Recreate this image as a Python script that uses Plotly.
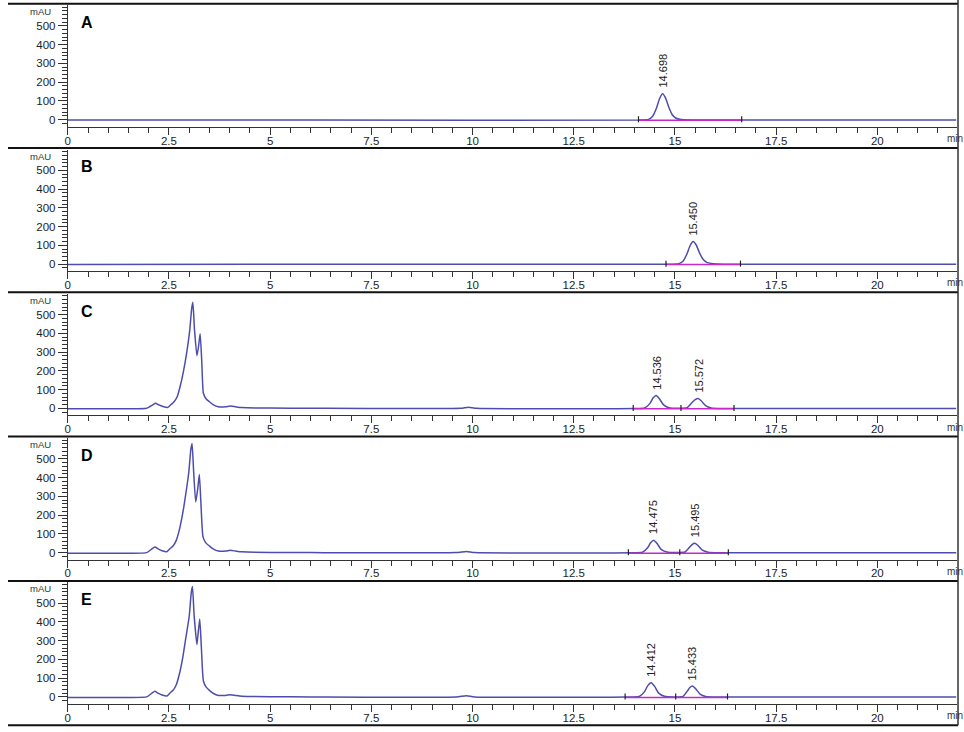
import plotly.graph_objects as go

W, H = 964, 732

panel_names = ["A", "B", "C", "D", "E"]

# retention time (min) and absorbance (mAU)
a_time = [0, 6, 14.1, 14.35, 14.45, 14.55, 14.62, 14.698, 14.77, 14.85, 14.93, 15.02, 15.15, 15.4, 21.95]
a_mau = [-2, -1, -2, 2, 18, 65, 112, 138, 115, 66, 28, 9, 1, -1, -1]

b_time = [0, 8, 14.8, 15.1, 15.2, 15.3, 15.38, 15.45, 15.53, 15.61, 15.7, 15.8, 15.95, 16.2, 21.95]
b_mau = [-2, -1, -1, 2, 15, 55, 100, 120, 100, 58, 24, 7, 1, -1, -1]

c_time = [0, 1.5, 1.95, 2.1, 2.17, 2.25, 2.35, 2.47, 2.55, 2.62, 2.7, 2.78, 2.86, 2.94, 3.01,
          3.06, 3.09, 3.13, 3.19, 3.23, 3.27, 3.31, 3.35, 3.42, 3.5, 3.6, 3.72, 3.9, 4.02, 4.15,
          4.3, 5.0, 6.0, 9.7, 9.9, 10.1, 14.0, 14.25, 14.38, 14.46, 14.536, 14.62, 14.72, 14.85,
          15.1, 15.3, 15.42, 15.5, 15.572, 15.65, 15.76, 15.9, 16.2, 21.95]
c_mau = [-3, -3, 0, 18, 27, 18, 10, 5, 20, 33, 60, 120, 200, 300, 410,
         530, 565, 420, 280, 330, 398, 250, 80, 50, 35, 18, 8, 8, 12, 8,
         4, 1, 0, 0, 6, 0, -1, 2, 25, 55, 68, 50, 18, 3,
         0, 3, 30, 46, 52, 40, 14, 2, -1, -1]

d_time = [0, 1.5, 1.95, 2.08, 2.15, 2.23, 2.33, 2.45, 2.53, 2.6, 2.68, 2.76, 2.84, 2.92, 2.99,
          3.04, 3.07, 3.11, 3.16, 3.21, 3.25, 3.29, 3.34, 3.41, 3.5, 3.6, 3.72, 3.9, 4.02, 4.15,
          4.3, 5.0, 6.0, 9.6, 9.85, 10.05, 13.9, 14.2, 14.32, 14.4, 14.475, 14.56, 14.66, 14.8,
          15.05, 15.25, 15.36, 15.43, 15.495, 15.57, 15.68, 15.82, 16.1, 21.95]
d_mau = [-3, -3, 0, 20, 30, 20, 10, 5, 22, 35, 65, 125, 210, 320, 430,
         550, 582, 430, 270, 340, 416, 260, 85, 52, 35, 18, 8, 8, 12, 8,
         4, 1, 0, 0, 6, 0, -1, 2, 24, 52, 66, 48, 17, 3,
         0, 3, 28, 44, 50, 38, 13, 2, -1, -1]

e_time = [0, 1.5, 1.95, 2.08, 2.15, 2.23, 2.33, 2.45, 2.53, 2.6, 2.68, 2.76, 2.84, 2.92, 3.0,
          3.05, 3.08, 3.12, 3.19, 3.22, 3.26, 3.3, 3.35, 3.42, 3.5, 3.6, 3.72, 3.9, 4.02, 4.15,
          4.3, 5.0, 6.0, 9.6, 9.85, 10.05, 13.8, 14.12, 14.25, 14.33, 14.412, 14.5, 14.6, 14.74,
          15.0, 15.2, 15.31, 15.37, 15.433, 15.51, 15.62, 15.76, 16.05, 21.95]
e_mau = [-3, -3, 0, 20, 30, 20, 10, 5, 22, 35, 65, 125, 210, 320, 430,
         555, 589, 440, 279, 340, 415, 265, 85, 52, 35, 18, 8, 8, 12, 8,
         4, 1, 0, 0, 6, 0, -1, 2, 28, 60, 76, 56, 20, 3,
         0, 3, 32, 50, 58, 44, 15, 2, -1, -1]

# labelled peaks (retention time) and integration events
a_peaks = [14.698]
b_peaks = [15.45]
c_peaks = [14.536, 15.572]
d_peaks = [14.475, 15.495]
e_peaks = [14.412, 15.433]

a_events = [14.1, 16.65]
b_events = [14.78, 16.62]
c_events = [13.97, 15.15, 16.46]
d_events = [13.85, 15.12, 16.32]
e_events = [13.77, 15.02, 16.3]

times = [a_time, b_time, c_time, d_time, e_time]
values = [a_mau, b_mau, c_mau, d_mau, e_mau]
peaks = [a_peaks, b_peaks, c_peaks, d_peaks, e_peaks]
events = [a_events, b_events, c_events, d_events, e_events]

y_ticks = [0, 100, 200, 300, 400, 500]

FONT = "Liberation Sans, Arial, sans-serif"
SIGNAL = "#4d4dad"
BASE = "#c828c8"

fig = go.Figure()
layout = dict()
annotations = []
shapes = []

x_left, x_right = 65, 957
px_per_min = 40.6
px_per_mau = 0.1875


def py(v):
    return 1 - v / H


for i, name in enumerate(panel_names):
    sep = 3.7 + 144.3 * i
    top = sep + 1.5
    axis_y = sep + 123
    zero_y = sep + 116
    ax = "" if i == 0 else str(i + 1)

    layout["xaxis" + ax] = dict(
        domain=[x_left / W, x_right / W],
        range=[0, (x_right - x_left) / px_per_min],
        anchor="y" + ax,
        dtick=2.5, tick0=0,
        ticks="outside", ticklen=7, tickcolor="#333", tickwidth=1,
        minor=dict(dtick=0.5, ticks="outside", ticklen=5, tickcolor="#333"),
        showline=True, linecolor="#333", linewidth=1,
        showgrid=False, zeroline=False,
        tickfont=dict(family=FONT, size=11.5, color="#222"),
        ticklabelstandoff=-4,
    )
    layout["yaxis" + ax] = dict(
        domain=[py(axis_y), py(top)],
        range=[-(axis_y - zero_y) / px_per_mau, (zero_y - top) / px_per_mau],
        anchor="x" + ax,
        tickvals=y_ticks,
        ticks="outside", ticklen=9, tickcolor="#333", tickwidth=1,
        minor=dict(dtick=20, tick0=0, ticks="outside", ticklen=5, tickcolor="#333"),
        showline=True, linecolor="#333", linewidth=1,
        showgrid=False, zeroline=False,
        tickfont=dict(family=FONT, size=11.5, color="#222"),
    )

    t, v = times[i], values[i]
    fig.add_trace(go.Scatter(
        x=t, y=v, mode="lines", xaxis="x" + ax, yaxis="y" + ax,
        line=dict(color=SIGNAL, width=1.5, shape="spline", smoothing=0.5),
        showlegend=False, hoverinfo="skip",
    ))

    ev = events[i]
    fig.add_trace(go.Scatter(
        x=[ev[0], ev[-1]], y=[-3, -3], mode="lines", xaxis="x" + ax, yaxis="y" + ax,
        line=dict(color=BASE, width=1.5), showlegend=False, hoverinfo="skip",
    ))
    tx, ty = [], []
    for e in ev:
        tx += [e, e, None]
        ty += [-14, 18, None]
    fig.add_trace(go.Scatter(
        x=tx, y=ty, mode="lines", xaxis="x" + ax, yaxis="y" + ax,
        line=dict(color="#222", width=1.2), showlegend=False, hoverinfo="skip",
    ))

    for p in peaks[i]:
        annotations.append(dict(
            x=p, y=v[t.index(p)], xref="x" + ax, yref="y" + ax,
            text=f"{p:.3f}", textangle=-90, showarrow=False,
            xanchor="center", yanchor="bottom", yshift=4,
            font=dict(family=FONT, size=11, color="#222"),
        ))

    annotations.append(dict(
        x=76 / W, y=py(sep + 19), xref="paper", yref="paper",
        text=f"<b>{name}</b>", showarrow=False, xanchor="left", yanchor="middle",
        font=dict(family=FONT, size=16, color="#000"),
    ))
    annotations.append(dict(
        x=38 / W, y=py(sep + 8), xref="paper", yref="paper",
        text="mAU", showarrow=False, xanchor="center", yanchor="middle",
        font=dict(family=FONT, size=9.5, color="#333"),
    ))
    annotations.append(dict(
        x=945 / W, y=py(sep + 135), xref="paper", yref="paper",
        text="min", showarrow=False, xanchor="left", yanchor="middle",
        font=dict(family=FONT, size=10, color="#333"),
    ))
    shapes.append(dict(
        type="line", xref="paper", yref="paper",
        x0=5 / W, x1=958 / W, y0=py(sep), y1=py(sep),
        line=dict(color="#111", width=2),
    ))

bottom = 3.7 + 144.3 * 5
shapes.append(dict(
    type="line", xref="paper", yref="paper",
    x0=5 / W, x1=958 / W, y0=py(bottom), y1=py(bottom),
    line=dict(color="#111", width=2),
))
shapes.append(dict(
    type="line", xref="paper", yref="paper",
    x0=958 / W, x1=958 / W, y0=py(0), y1=py(bottom),
    line=dict(color="#333", width=1.5),
))

fig.update_layout(
    width=W, height=H,
    margin=dict(l=0, r=0, t=0, b=0),
    paper_bgcolor="white", plot_bgcolor="white",
    annotations=annotations, shapes=shapes,
    **layout,
)

# the page body has a default 8px margin; drop it so the figure sits at 0,0
fig.write_html("out.html", config={"displayModeBar": False},
               post_script="document.body.style.margin='0';")
